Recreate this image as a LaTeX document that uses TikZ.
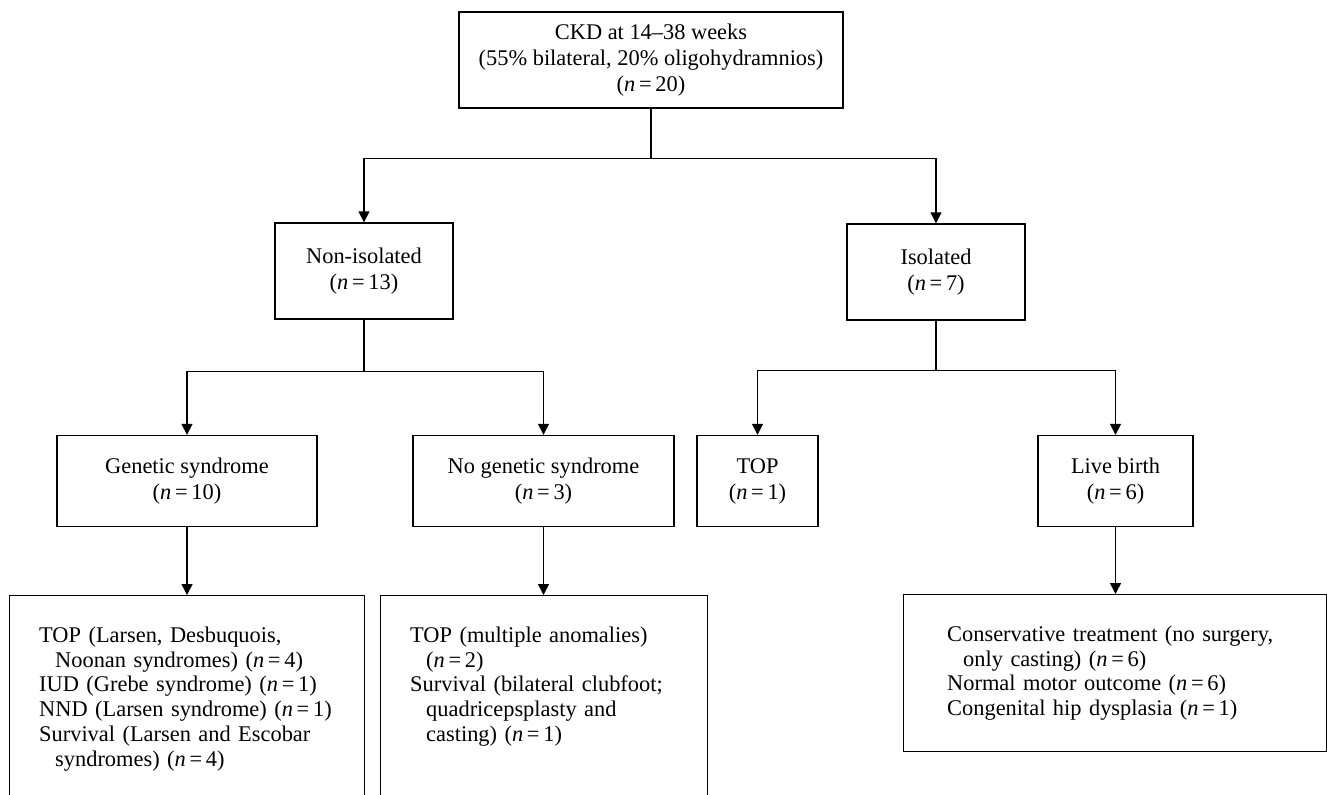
\documentclass[tikz,border=0pt]{standalone}
\usepackage{fontspec}
\setmainfont{Liberation Serif}
\usepackage{tikz}
\usetikzlibrary{arrows.meta}
\newcommand{\ncount}[1]{(\textit{n}\,=\,#1)}

\begin{document}
\begin{tikzpicture}[
      x=0.5pt, y=-0.5pt,
      font=\fontsize{11.2}{12.4}\selectfont,
      block/.style={draw, line width=0.7pt, align=center, inner sep=0pt, font=\fontsize{11.2}{13}\selectfont},
      result/.style={draw, line width=0.7pt, anchor=north west, align=left, inner xsep=0pt, inner ysep=15.5pt},
      arr/.style={-{Triangle[width=5.5pt,length=5.5pt]}, line width=0.7pt},
      line/.style={line width=0.7pt},
    ]
    \useasboundingbox (0,0) rectangle (1327,794);
    \node[block, minimum width=192pt, minimum height=48pt] (ckd) at (651,60)
      {CKD at 14--38 weeks\\(55\% bilateral, 20\% oligohydramnios)\\\ncount{20}};
    \node[block, minimum width=89pt, minimum height=48pt] (noniso) at (364,271) {Non-isolated\\\ncount{13}};
    \node[block, minimum width=89pt, minimum height=48pt] (iso) at (936,272) {Isolated\\\ncount{7}};
    \node[block, minimum width=130pt, minimum height=45.5pt] (genetic) at (187,481) {Genetic syndrome\\\ncount{10}};
    \node[block, minimum width=130.5pt, minimum height=45.5pt] (nogen) at (543.5,481) {No genetic syndrome\\\ncount{3}};
    \node[block, minimum width=60.5pt, minimum height=45.5pt] (topiso) at (757.5,481) {TOP\\\ncount{1}};
    \node[block, minimum width=77.5pt, minimum height=45.5pt] (live) at (1115.5,481) {Live birth\\\ncount{6}};
    \node[result, minimum width=177.5pt, text width=148pt, text depth=70pt] (geneticout) at (9,595)
      {TOP (Larsen, Desbuquois,\\\hspace*{8pt}Noonan syndromes) \ncount{4}\\IUD (Grebe syndrome) \ncount{1}\\NND (Larsen syndrome) \ncount{1}\\Survival (Larsen and Escobar\\\hspace*{8pt}syndromes) \ncount{4}};
    \node[result, minimum width=163.5pt, text width=134pt, text depth=70pt] (nogenout) at (380,595)
      {TOP (multiple anomalies)\\\hspace*{8pt}\ncount{2}\\Survival (bilateral clubfoot;\\\hspace*{8pt}quadricepsplasty and\\\hspace*{8pt}casting) \ncount{1}};
    \node[result, minimum width=211.5pt, text width=168pt] (liveout) at (903,594)
      {Conservative treatment (no surgery,\\\hspace*{8pt}only casting) \ncount{6}\\Normal motor outcome \ncount{6}\\Congenital hip dysplasia \ncount{1}};
    \draw[line] (ckd.south) -- ++(0,50) coordinate (ckdsplit);
    \draw[arr] (ckdsplit) -| (noniso);
    \draw[arr] (ckdsplit) -| (iso);
    \draw[line] (noniso.south) -- ++(0,52) coordinate (nonisosplit);
    \draw[arr] (nonisosplit) -| (genetic);
    \draw[arr] (nonisosplit) -| (nogen);
    \draw[line] (iso.south) -- ++(0,50) coordinate (isosplit);
    \draw[arr] (isosplit) -| (topiso);
    \draw[arr] (isosplit) -| (live);
    \draw[arr] (genetic.south) -- (genetic.south |- geneticout.north);
    \draw[arr] (nogen.south) -- (nogen.south |- nogenout.north);
    \draw[arr] (live.south) -- (live.south |- liveout.north);
  \end{tikzpicture}
\end{document}
